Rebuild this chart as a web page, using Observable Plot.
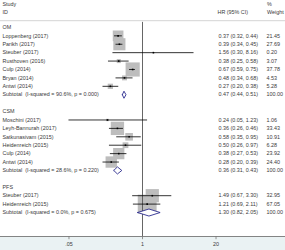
<!DOCTYPE html>
<html>
<head>
<meta charset="utf-8">
<script src="https://cdn.jsdelivr.net/npm/d3@7"></script>
<script src="https://cdn.jsdelivr.net/npm/@observablehq/plot@0.6"></script>
<style>
  html, body { margin: 0; padding: 0; background: #fff; }
</style>
</head>
<body>
<div id="chart"></div>
<script>
// Outcome subgroups, in display order
const groups = ["OM", "CSM", "PFS"];

// Individual studies
const studies = [
  "Loppenberg (2017)", "Parikh (2017)", "Steuber (2017)", "Rusthoven (2016)",
  "Culp (2014)", "Bryan (2014)", "Antwi (2014)",
  "Moschini (2017)", "Leyh-Bannurah (2017)", "Satkunasivam (2015)",
  "Heidenreich (2015)", "Culp (2014)", "Antwi (2014)",
  "Steuber (2017)", "Heidenreich (2015)"
];
const studyGroup = [
  "OM", "OM", "OM", "OM", "OM", "OM", "OM",
  "CSM", "CSM", "CSM", "CSM", "CSM", "CSM",
  "PFS", "PFS"
];
const hr     = [0.37, 0.39, 1.56, 0.38, 0.67, 0.48, 0.27, 0.24, 0.36, 0.58, 0.50, 0.38, 0.28, 1.49, 1.21];
const lower  = [0.32, 0.34, 0.30, 0.25, 0.59, 0.34, 0.20, 0.05, 0.26, 0.35, 0.26, 0.27, 0.20, 0.67, 0.69];
const upper  = [0.44, 0.45, 8.16, 0.58, 0.75, 0.68, 0.38, 1.23, 0.46, 0.95, 0.97, 0.53, 0.39, 3.30, 2.11];
const weight = [21.45, 27.69, 0.20, 3.07, 37.78, 4.53, 5.28, 1.06, 33.43, 10.91, 6.28, 23.92, 24.40, 32.95, 67.05];

// Pooled subgroup estimates
const subtotalHR     = [0.47, 0.36, 1.30];
const subtotalLower  = [0.44, 0.31, 0.82];
const subtotalUpper  = [0.51, 0.43, 2.05];
const subtotalWeight = [100.00, 100.00, 100.00];
const subtotalI2     = ["90.6%", "28.6%", "0.0%"];
const subtotalP      = ["0.000", "0.220", "0.675"];

// Axis
const xTicks = [0.05, 1, 20];
const xTickLabels = [".05", "1", "20"];

const fmtCI = (e, l, u) => `${e.toFixed(2)} (${l.toFixed(2)}, ${u.toFixed(2)})`;

// Row layout: group heading, its studies, the subtotal, then a spacer row
const studyRows = [];
const subtotalRows = [];
const labelRows = [];
let row = 0;
groups.forEach((g, gi) => {
  labelRows.push({row, text: g});
  row++;
  studies.forEach((s, i) => {
    if (studyGroup[i] !== g) return;
    studyRows.push({row, hr: hr[i], lo: lower[i], hi: upper[i], w: weight[i]});
    labelRows.push({row, text: s, ci: fmtCI(hr[i], lower[i], upper[i]), w: weight[i].toFixed(2)});
    row++;
  });
  subtotalRows.push({row, group: g, hr: subtotalHR[gi], lo: subtotalLower[gi], hi: subtotalUpper[gi]});
  labelRows.push({
    row,
    text: `Subtotal  (I-squared = ${subtotalI2[gi]}, p = ${subtotalP[gi]})`,
    ci: fmtCI(subtotalHR[gi], subtotalLower[gi], subtotalUpper[gi]),
    w: subtotalWeight[gi].toFixed(2)
  });
  row += 2;
});

// Diamond outline for each pooled estimate
const halfH = 0.42;
const diamonds = subtotalRows.flatMap(d => [
  {group: d.group, x: d.lo, y: d.row},
  {group: d.group, x: d.hr, y: d.row - halfH},
  {group: d.group, x: d.hi, y: d.row},
  {group: d.group, x: d.hr, y: d.row + halfH},
  {group: d.group, x: d.lo, y: d.row}
]);

const yDomain = [-3.2, 24.85];
const axisRow = yDomain[1];
const textColor = "#3a3a3a";
const tickData = xTicks.map((v, i) => ({v, label: xTickLabels[i]}));

const chart = Plot.plot({
  width: 285,
  height: 250,
  marginLeft: 0,
  marginRight: 0,
  marginTop: 0,
  marginBottom: 14,
  style: {
    fontFamily: "'Liberation Sans', Arial, sans-serif",
    fontSize: "5.4px",
    color: textColor,
    background: "linear-gradient(#ffffff 236px, #eaf2f3 236px)"
  },
  x: {type: "log", domain: [0.04, 25], range: [63, 221], axis: null},
  y: {domain: yDomain, reverse: true, axis: null},
  r: {type: "sqrt", domain: [0, 100], range: [0, 13]},
  marks: [
    // column headings
    Plot.text([{y: -2.75, t: "Study"}, {y: -1.8, t: "ID"}],
      {y: "y", text: "t", frameAnchor: "left", dx: 2, textAnchor: "start", fill: textColor}),
    Plot.text([{y: -1.8, t: "HR (95% CI)"}],
      {y: "y", text: "t", frameAnchor: "left", dx: 217, textAnchor: "start", fill: textColor}),
    Plot.text([{y: -2.75, t: "%"}, {y: -1.8, t: "Weight"}],
      {y: "y", text: "t", frameAnchor: "left", dx: 266.5, textAnchor: "start", fill: textColor}),
    Plot.ruleY([-0.8], {stroke: "#c8c8c8", strokeWidth: 0.8}),

    // weight boxes
    Plot.dot(studyRows, {x: "hr", y: "row", r: "w", symbol: "square", fill: "#bdbdbd", stroke: null}),

    // line of no effect
    Plot.ruleX([1], {y1: -0.6, y2: axisRow, stroke: "#555", strokeWidth: 0.9}),

    // confidence intervals and point estimates
    Plot.ruleY(studyRows, {y: "row", x1: "lo", x2: "hi", stroke: "#000", strokeWidth: 0.8}),
    Plot.dot(studyRows, {x: "hr", y: "row", r: 0.9, symbol: "square", fill: "#000", stroke: null}),

    // pooled diamonds
    Plot.line(diamonds, {x: "x", y: "y", z: "group", stroke: "#2b2b8f", fill: "#ffffff", strokeWidth: 0.9, curve: "linear"}),

    // study labels and statistics
    Plot.text(labelRows, {y: "row", text: "text", frameAnchor: "left", dx: 2, textAnchor: "start", fill: textColor}),
    Plot.text(labelRows.filter(d => d.ci), {y: "row", text: "ci", frameAnchor: "left", dx: 218, textAnchor: "start", fill: textColor}),
    Plot.text(labelRows.filter(d => d.w), {y: "row", text: "w", frameAnchor: "left", dx: 266, textAnchor: "start", fill: textColor}),

    // x axis: baseline across the full width, short ticks and their labels
    Plot.frame({anchor: "bottom", stroke: "#777", strokeWidth: 0.9}),
    Plot.ruleX(tickData, {x: "v", y1: axisRow, y2: axisRow + 0.38, stroke: "#777", strokeWidth: 0.8}),
    Plot.text(tickData, {x: "v", y: axisRow + 0.98, text: "label", fill: textColor, fontSize: 5.4})
  ]
});

document.getElementById("chart").appendChild(chart);
</script>
</body>
</html>
